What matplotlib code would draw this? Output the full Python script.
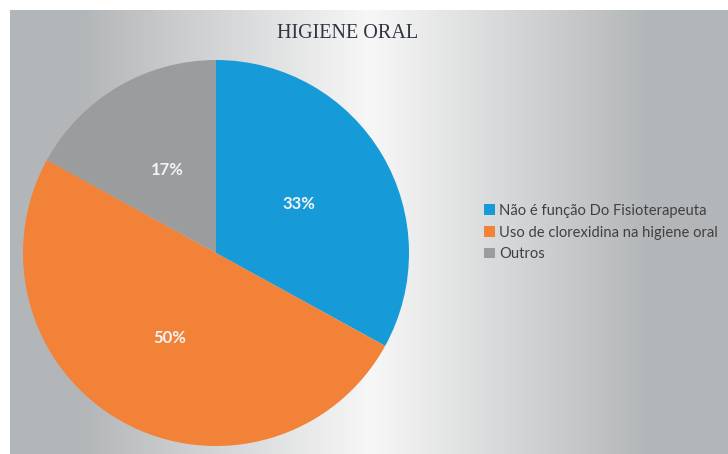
import numpy as np
import matplotlib.pyplot as plt

# dados do gráfico
categorias = ['Não é função Do Fisioterapeuta',
              'Uso de clorexidina na higiene oral',
              'Outros']
percentuais = [33, 50, 17]
cores = ['#169bd8', '#f28237', '#9a9c9d']

W, H = 728, 454
fig = plt.figure(figsize=(W / 100, H / 100), dpi=100)
fig.patch.set_facecolor('white')

# fundo com degradê horizontal cinza -> branco -> cinza
bg = fig.add_axes([10 / W, 0, (W - 10) / W, (H - 10) / H])
xs = np.arange(10, W)
cinza = np.array([179, 182, 184]) / 255
branco = np.array([247, 247, 247]) / 255
t = np.interp(xs, [10, 80, 370, 650, W], [0, 0, 1, 0, 0])
grad = cinza[None, :] * (1 - t[:, None]) + branco[None, :] * t[:, None]
bg.imshow(grad[None, :, :], aspect='auto', extent=[0, 1, 0, 1])
bg.set_axis_off()

# pizza
r = 193
cx, cy = 216, 253
ax = fig.add_axes([(cx - r) / W, (H - cy - r) / H, 2 * r / W, 2 * r / H])
ax.patch.set_alpha(0)
wedges, textos, autotextos = ax.pie(
    percentuais, colors=cores, startangle=90, counterclock=False,
    autopct=lambda p: '%d%%' % round(p), pctdistance=0.5,
    wedgeprops=dict(linewidth=0),
    textprops=dict(color='#f4f4f4', fontsize=12, fontweight='bold',
                   family='Lato'))
ax.set_xlim(-1, 1)
ax.set_ylim(-1, 1)
ax.set_axis_off()

fig.text(348 / W, 1 - 33 / H, 'HIGIENE ORAL', ha='center', va='center',
         family='Liberation Serif', fontsize=14.5, color='#303540')

leg = fig.legend(wedges, categorias, loc='upper left',
                 bbox_to_anchor=(478 / W, 1 - 198 / H), frameon=False,
                 handlelength=0.75, handleheight=0.75, handletextpad=0.3,
                 labelspacing=0.52, borderaxespad=0,
                 prop=dict(family='Lato', size=10.6))
for txt in leg.get_texts():
    txt.set_color('#404040')

fig.savefig('out.png', dpi=100)
